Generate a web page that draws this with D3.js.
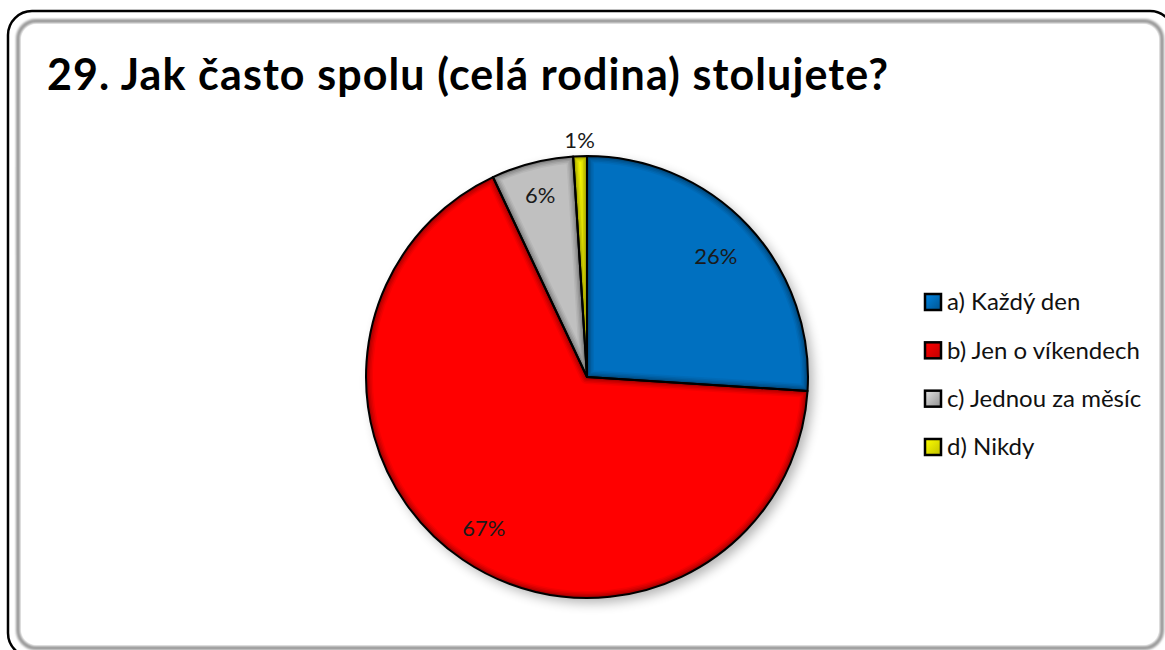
<!DOCTYPE html>
<html><head><meta charset="utf-8">
<script src="https://cdn.jsdelivr.net/npm/d3@7"></script>
<style>html,body{margin:0;padding:0;background:#fff;}svg{display:block;}</style>
</head><body>
<svg id="c" width="1165" height="650"></svg>
<script>
const title = "29. Jak často spolu (celá rodina) stolujete?";
const categories = ["a) Každý den", "b) Jen o víkendech", "c) Jednou za měsíc", "d) Nikdy"];
const values = [26, 67, 6, 1];
const labels = ["26%", "67%", "6%", "1%"];
const colors = ["#0070C0", "#FF0000", "#C0C0C0", "#FFFF00"];

const svg = d3.select("#c");
const defs = svg.append("defs");
const font = "Lato, 'Open Sans', sans-serif";

// frame
const fs = defs.append("filter").attr("id","fsh").attr("x","-5%").attr("y","-5%").attr("width","110%").attr("height","110%");
fs.append("feGaussianBlur").attr("stdDeviation",1.2);
svg.append("rect").attr("x",8).attr("y",11).attr("width",1166).attr("height",646).attr("rx",24)
  .attr("fill","#fff").attr("stroke","#000").attr("stroke-width",2.5);
svg.append("rect").attr("x",18).attr("y",21).attr("width",1144).attr("height",627).attr("rx",18)
  .attr("fill","none").attr("stroke","#9a9a9a").attr("stroke-width",4).attr("filter","url(#fsh)");
svg.append("rect").attr("x",21).attr("y",24).attr("width",1138).attr("height",621).attr("rx",16)
  .attr("fill","#fff");

svg.append("text").attr("x",47).attr("y",90).text(title)
  .attr("textLength",841).attr("lengthAdjust","spacing")
  .attr("font-family",font).attr("font-weight","bold").attr("font-size",43).attr("fill","#000");

// pie
const cx = 587, cy = 377, R = 221;
const pie = d3.pie().sort(null).value(d => d);
const arcs = pie(values);
const arc = d3.arc().innerRadius(0).outerRadius(R);

const sh = defs.append("filter").attr("id","pshadow").attr("filterUnits","userSpaceOnUse")
  .attr("x",-260).attr("y",-260).attr("width",540).attr("height",540);
sh.append("feGaussianBlur").attr("in","SourceAlpha").attr("stdDeviation",6);
sh.append("feOffset").attr("dx",5).attr("dy",5).attr("result","b");
sh.append("feComponentTransfer").append("feFuncA").attr("type","linear").attr("slope",0.3);
const m = sh.append("feMerge"); m.append("feMergeNode"); m.append("feMergeNode").attr("in","SourceGraphic");

const gp = svg.append("g").attr("transform",`translate(${cx},${cy})`);
gp.append("circle").attr("r",R).attr("fill","#fff").attr("filter","url(#pshadow)");
const gs = gp.append("g");
const bevel = [[14,0.05],[11,0.07],[8,0.09],[5,0.12],[2.5,0.18]];
arcs.forEach((d,i)=>{
  const p = arc(d);
  defs.append("clipPath").attr("id","cp"+i).append("path").attr("d",p);
  const g = gs.append("g").attr("clip-path",`url(#cp${i})`);
  g.append("path").attr("d",p).attr("fill",colors[i]);
  bevel.forEach(([w,o])=>{
    g.append("path").attr("d",p).attr("fill","none").attr("stroke","#000")
      .attr("stroke-opacity",o).attr("stroke-width",w).attr("stroke-linejoin","round");
  });
});
gs.selectAll("path.s").data(arcs).join("path").attr("class","s")
  .attr("d",arc).attr("fill","none").attr("stroke","#000").attr("stroke-width",2).attr("stroke-linejoin","round");

const labelR = [0.80, 0.83, 0.85, 1.07];
gp.selectAll("text.l").data(arcs).join("text").attr("class","l")
  .attr("transform",(d,i)=>{ const a=(d.startAngle+d.endAngle)/2; const r=R*labelR[i]; return `translate(${Math.sin(a)*r},${-Math.cos(a)*r})`; })
  .attr("text-anchor","middle").attr("dy","0.35em")
  .attr("font-family",font).attr("font-size",22).attr("fill","#1a1a1a").text((d,i)=>labels[i]);

// legend
const lg = svg.append("g");
const ly = d3.scalePoint().domain(categories).range([302,447]);
categories.forEach((c,i)=>{
  const y = ly(c);
  const lgr = defs.append("linearGradient").attr("id","lg"+i).attr("x1",0).attr("y1",0).attr("x2",1).attr("y2",1);
  lgr.append("stop").attr("offset","0%").attr("stop-color",d3.color(colors[i]).brighter(0.5));
  lgr.append("stop").attr("offset","100%").attr("stop-color",d3.color(colors[i]).darker(0.8));
  lg.append("rect").attr("x",925).attr("y",y-8).attr("width",16).attr("height",16)
    .attr("fill",`url(#lg${i})`).attr("stroke","#000").attr("stroke-width",2.5);
  lg.append("text").attr("x",947).attr("y",y).attr("dy","0.35em").text(c)
    .attr("font-family",font).attr("font-size",24).attr("fill","#111");
});
</script>
</body></html>
